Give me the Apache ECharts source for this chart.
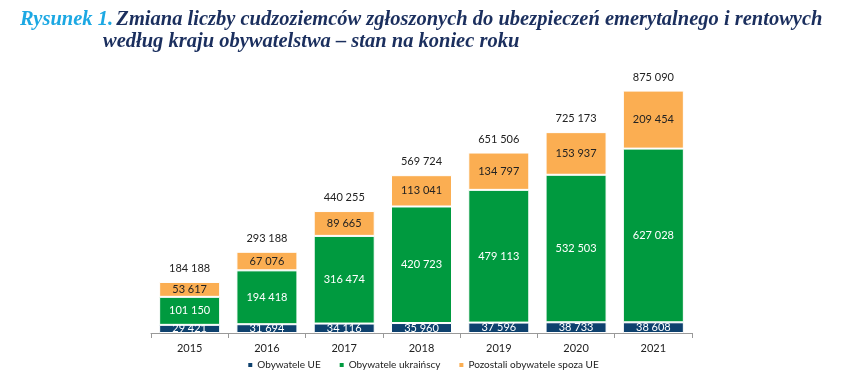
<!DOCTYPE html>
<html><head><meta charset="utf-8">
<script src="https://cdn.jsdelivr.net/npm/echarts@6/dist/echarts.min.js"></script>
<style>html,body{margin:0;padding:0;background:#fff}#c{width:845px;height:383px}</style>
</head><body><div id="c"></div>
<script>
const years = ['2015','2016','2017','2018','2019','2020','2021'];
const ue = [29421, 31694, 34116, 35960, 37596, 38733, 38608];
const ukr = [101150, 194418, 316474, 420723, 479113, 532503, 627028];
const other = [53617, 67076, 89665, 113041, 134797, 153937, 209454];
const totals = [184188, 293188, 440255, 569724, 651506, 725173, 875090];
const seriesNames = ['Obywatele UE', 'Obywatele ukraińscy', 'Pozostali obywatele spoza UE'];

const fmt = v => String(v).replace(/\B(?=(\d{3})+(?!\d))/g, ' ');
const chart = echarts.init(document.getElementById('c'), null, {renderer:'canvas'});
const font = 'Lato';
const tf = 'Liberation Serif';
const mk = (name, data, color, txt) => ({
  name, type:'bar', stack:'s', data, barWidth:61,
  itemStyle:{color, borderColor:'#fff', borderWidth:1},
  label:{show:true, position:'inside', color:txt, fontSize:11, fontFamily:font, formatter:p=>fmt(p.value)}
});
chart.setOption({
  animation:false,
  textStyle:{fontFamily:font},
  graphic:[
    {type:'text', left:20, top:10, style:{text:'{a|Rysunek 1.} {b|Zmiana liczby cudzoziemców zgłoszonych do ubezpieczeń emerytalnego i rentowych}',
      rich:{a:{fill:'#1CA8E3', fontSize:20.5, fontStyle:'italic', fontWeight:'bold', fontFamily:tf},
            b:{fill:'#1B2F5E', fontSize:20.5, fontStyle:'italic', fontWeight:'bold', fontFamily:tf}}}},
    {type:'text', left:103, top:32, style:{text:'według kraju obywatelstwa – stan na koniec roku', fill:'#1B2F5E', fontSize:20.5, fontStyle:'italic', fontWeight:'bold', fontFamily:tf}}
  ],
  legend:{bottom:8, left:'center', itemWidth:6, itemHeight:6, itemGap:17, icon:'rect',
    textStyle:{fontSize:10, color:'#222', fontFamily:font, padding:[0,0,0,-1]}, data:seriesNames},
  grid:{left:151, right:153, top:56, bottom:50, containLabel:false},
  xAxis:{type:'category', data:years, axisLine:{lineStyle:{color:'#999'}}, axisTick:{show:true, lineStyle:{color:'#999'}},
    axisLabel:{color:'#222', fontSize:11, margin:10, fontFamily:font}},
  yAxis:{type:'value', min:0, max:1000000, show:false, splitLine:{show:false}},
  series:[
    mk(seriesNames[0], ue, '#0E416E', '#fff'),
    mk(seriesNames[1], ukr, '#009A3F', '#fff'),
    mk(seriesNames[2], other, '#FBAE52', '#222'),
    {name:'total', type:'bar', stack:'s', data:totals.map(()=>0), barWidth:61, itemStyle:{color:'transparent'},
      label:{show:true, position:'top', distance:8, color:'#222', fontSize:11, fontFamily:font, formatter:p=>fmt(totals[p.dataIndex])}}
  ]
});
</script></body></html>
